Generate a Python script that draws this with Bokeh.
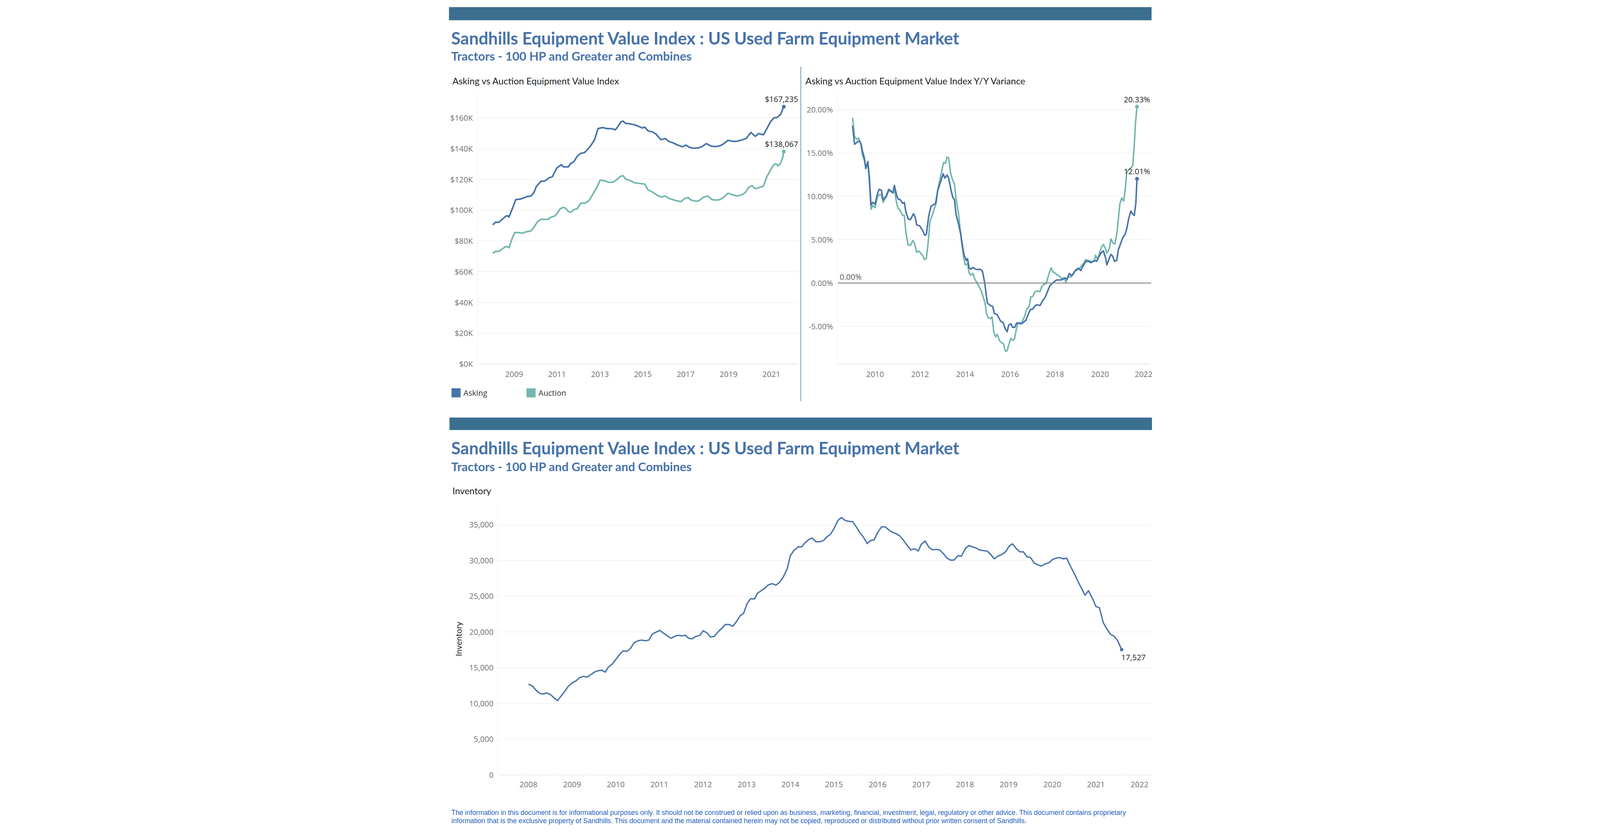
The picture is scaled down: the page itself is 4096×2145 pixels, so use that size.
from bokeh.plotting import figure
from bokeh.layouts import row, column, Spacer
from bokeh.models import Range1d, FixedTicker, Span, Legend, LegendItem
from bokeh.core.properties import value
from bokeh.embed import file_html
from bokeh.resources import INLINE

# ---------------- data ----------------
TITLE = "Sandhills Equipment Value Index : US Used Farm Equipment Market"
SUBTITLE = "Tractors - 100 HP and Greater and Combines"
LEFT_TITLE = "Asking vs Auction Equipment Value Index"
RIGHT_TITLE = "Asking vs Auction Equipment Value Index Y/Y Variance"
INV_TITLE = "Inventory"
FOOTER_1 = ("The information in this document is for informational purposes only.  It should not be construed or relied upon as business, "
            "marketing, financial, investment, legal, regulatory or other advice. This document contains proprietary")
FOOTER_2 = ("information that is the exclusive property of Sandhills. This document and the material contained herein may not be copied, "
            "reproduced or distributed without prior written consent of Sandhills.")

# Asking / Auction value index (thousands of US$)
ask_years = [2008.00, 2008.12, 2008.28, 2008.44, 2008.60, 2008.70, 2008.76, 2008.97, 2009.07, 2009.29,
             2009.50, 2009.61, 2009.71, 2009.82, 2009.93, 2010.03, 2010.25, 2010.41, 2010.57, 2010.62,
             2010.78, 2010.88, 2010.99, 2011.20, 2011.31, 2011.52, 2011.63, 2011.79, 2011.95, 2012.11,
             2012.27, 2012.43, 2012.59, 2012.75, 2012.91, 2013.12, 2013.33, 2013.55, 2013.71, 2013.81,
             2013.97, 2014.08, 2014.19, 2014.40, 2014.61, 2014.82, 2014.98, 2015.09, 2015.25, 2015.46,
             2015.62, 2015.84, 2016.05, 2016.21, 2016.42, 2016.63, 2016.85, 2017.01, 2017.17, 2017.38,
             2017.59, 2017.75, 2017.97, 2018.18, 2018.39, 2018.60, 2018.76, 2018.98, 2019.19, 2019.40,
             2019.62, 2019.83, 2020.04, 2020.25, 2020.41, 2020.63, 2020.79, 2020.95, 2021.11, 2021.27,
             2021.43, 2021.51, 2021.58]
ask_values = [90.4, 92.1, 92.1, 94.0, 96.0, 96.4, 95.5, 103.0, 106.8, 107.2,
              108.2, 108.9, 108.9, 109.6, 111.7, 115.3, 118.8, 118.8, 120.3, 121.0,
              121.7, 124.5, 127.4, 129.5, 128.1, 128.1, 130.2, 131.6, 135.2, 137.0,
              137.3, 139.5, 142.3, 145.8, 153.0, 153.7, 153.0, 153.0, 152.2, 153.7,
              157.2, 157.9, 156.5, 156.1, 155.5, 154.4, 153.4, 154.0, 151.5, 150.8,
              149.4, 145.8, 146.6, 144.7, 143.7, 142.3, 141.2, 142.3, 140.9, 140.2,
              140.5, 141.2, 143.3, 141.6, 141.3, 141.8, 143.0, 145.4, 144.7, 144.8,
              145.6, 146.6, 150.5, 148.0, 149.8, 149.0, 153.0, 157.2, 160.0, 160.3,
              162.2, 165.0, 167.235]

auc_years = [2008.00, 2008.12, 2008.28, 2008.44, 2008.60, 2008.70, 2008.76, 2008.91, 2009.02, 2009.18,
             2009.39, 2009.55, 2009.66, 2009.77, 2009.93, 2010.09, 2010.25, 2010.41, 2010.57, 2010.72,
             2010.88, 2010.99, 2011.15, 2011.31, 2011.42, 2011.52, 2011.63, 2011.79, 2011.95, 2012.11,
             2012.32, 2012.48, 2012.64, 2012.85, 2013.01, 2013.23, 2013.39, 2013.60, 2013.76, 2013.97,
             2014.08, 2014.19, 2014.40, 2014.61, 2014.82, 2014.98, 2015.09, 2015.25, 2015.46, 2015.68,
             2015.89, 2016.05, 2016.21, 2016.42, 2016.58, 2016.79, 2016.95, 2017.11, 2017.22, 2017.38,
             2017.59, 2017.81, 2018.02, 2018.23, 2018.44, 2018.60, 2018.82, 2018.98, 2019.19, 2019.40,
             2019.62, 2019.78, 2019.93, 2020.09, 2020.25, 2020.41, 2020.63, 2020.79, 2020.95, 2021.11,
             2021.21, 2021.32, 2021.43, 2021.53, 2021.58]
auc_values = [71.9, 73.1, 73.1, 74.8, 76.2, 76.2, 75.5, 81.9, 85.4, 85.4,
              85.0, 85.9, 86.1, 86.4, 89.0, 92.5, 94.0, 94.0, 94.0, 95.4,
              96.1, 97.5, 101.0, 101.8, 101.0, 99.2, 98.6, 100.3, 101.0, 104.6,
              104.6, 106.0, 109.6, 114.6, 119.5, 119.1, 118.1, 118.1, 119.5, 122.0,
              122.4, 120.3, 119.3, 117.8, 117.4, 117.1, 117.0, 113.1, 111.7, 109.6,
              108.5, 109.2, 107.7, 106.8, 106.0, 105.6, 107.5, 108.2, 106.8, 106.0,
              105.8, 108.2, 109.2, 106.8, 106.5, 106.8, 108.9, 111.0, 110.0, 109.2,
              109.9, 111.4, 114.6, 116.0, 113.9, 114.6, 115.7, 121.7, 125.9, 129.5,
              130.2, 128.8, 130.5, 134.5, 138.067]

# Y/Y variance (%)
yoy_ask_years = [2009.00, 2009.09, 2009.19, 2009.29, 2009.37, 2009.44, 2009.52, 2009.59, 2009.68, 2009.75,
                 2009.82, 2009.90, 2010.00, 2010.10, 2010.18, 2010.28, 2010.36, 2010.49, 2010.61, 2010.71,
                 2010.79, 2010.86, 2010.96, 2011.02, 2011.12, 2011.22, 2011.30, 2011.37, 2011.47, 2011.57,
                 2011.71, 2011.78, 2011.85, 2011.98, 2012.08, 2012.13, 2012.21, 2012.28, 2012.39, 2012.49,
                 2012.64, 2012.69, 2012.79, 2012.89, 2013.03, 2013.10, 2013.20, 2013.27, 2013.37, 2013.45,
                 2013.53, 2013.60, 2013.71, 2013.81, 2013.88, 2013.96, 2014.06, 2014.11, 2014.18, 2014.26,
                 2014.35, 2014.47, 2014.57, 2014.67, 2014.77, 2014.87, 2014.92, 2014.99, 2015.13, 2015.23,
                 2015.30, 2015.43, 2015.58, 2015.69, 2015.79, 2015.87, 2015.94, 2016.04, 2016.11, 2016.21,
                 2016.29, 2016.40, 2016.50, 2016.60, 2016.70, 2016.80, 2016.90, 2017.01, 2017.11, 2017.21,
                 2017.33, 2017.46, 2017.56, 2017.66, 2017.77, 2017.92, 2018.07, 2018.22, 2018.32, 2018.43,
                 2018.53, 2018.63, 2018.73, 2018.83, 2018.93, 2019.04, 2019.14, 2019.24, 2019.36, 2019.49,
                 2019.59, 2019.75, 2019.85, 2019.93, 2020.05, 2020.15, 2020.25, 2020.30, 2020.41, 2020.48,
                 2020.56, 2020.64, 2020.74, 2020.81, 2020.94, 2021.02, 2021.12, 2021.19, 2021.27, 2021.37,
                 2021.45, 2021.52, 2021.59, 2021.64]
yoy_ask_values = [18.15, 16.0, 16.2, 16.4, 16.1, 15.2, 14.5, 13.2, 14.0, 12.1,
                  9.0, 9.3, 9.1, 10.2, 10.8, 10.7, 9.6, 10.0, 10.8, 10.6,
                  10.4, 11.25, 10.1, 9.7, 9.6, 9.2, 9.3, 8.2, 7.4, 7.3,
                  8.0, 7.6, 6.7, 6.6, 6.2, 6.0, 5.5, 5.6, 7.8, 8.85,
                  9.1, 9.2, 10.7, 11.5, 12.6, 12.1, 12.45, 12.1, 10.8, 9.9,
                  9.6, 7.9, 6.8, 5.6, 4.4, 3.2, 2.6, 2.8, 1.75, 1.6,
                  1.8, 1.6, 1.55, 1.6, 1.4, 0.07, -0.9, -2.3, -2.6, -2.7,
                  -3.5, -3.65, -4.4, -4.55, -5.3, -5.6, -4.85, -4.7, -5.1, -5.1,
                  -4.6, -4.6, -4.7, -4.5, -4.3, -3.65, -3.05, -3.0, -2.6, -2.5,
                  -2.6, -2.0, -1.65, -1.0, -0.3, 0.07, 0.36, 0.36, 0.38, 0.6,
                  0.43, 1.1, 0.85, 1.15, 1.55, 1.7, 1.45, 1.95, 2.5, 2.5,
                  2.35, 2.6, 2.5, 2.95, 3.5, 3.7, 2.85, 2.1, 2.85, 3.3,
                  3.1, 2.5, 2.6, 3.8, 4.75, 5.3, 5.65, 6.3, 7.4, 8.3,
                  7.95, 7.8, 9.2, 12.01]

yoy_auc_years = [2009.00, 2009.09, 2009.17, 2009.27, 2009.37, 2009.44, 2009.54, 2009.59, 2009.68, 2009.75,
                 2009.82, 2009.90, 2010.00, 2010.10, 2010.20, 2010.28, 2010.36, 2010.51, 2010.61, 2010.73,
                 2010.81, 2010.86, 2010.93, 2011.02, 2011.12, 2011.22, 2011.30, 2011.37, 2011.47, 2011.57,
                 2011.68, 2011.75, 2011.85, 2011.93, 2012.03, 2012.13, 2012.20, 2012.28, 2012.36, 2012.44,
                 2012.54, 2012.64, 2012.72, 2012.79, 2012.89, 2012.96, 2013.05, 2013.13, 2013.20, 2013.27,
                 2013.35, 2013.43, 2013.53, 2013.60, 2013.71, 2013.78, 2013.86, 2013.94, 2014.01, 2014.11,
                 2014.18, 2014.26, 2014.35, 2014.42, 2014.52, 2014.62, 2014.72, 2014.79, 2014.89, 2014.95,
                 2015.03, 2015.13, 2015.20, 2015.28, 2015.36, 2015.43, 2015.53, 2015.63, 2015.71, 2015.79,
                 2015.87, 2015.94, 2016.04, 2016.11, 2016.19, 2016.27, 2016.35, 2016.45, 2016.55, 2016.65,
                 2016.75, 2016.85, 2016.92, 2017.01, 2017.11, 2017.21, 2017.33, 2017.41, 2017.51, 2017.61,
                 2017.72, 2017.82, 2017.90, 2018.00, 2018.10, 2018.20, 2018.30, 2018.41, 2018.48, 2018.58,
                 2018.68, 2018.78, 2018.88, 2018.98, 2019.09, 2019.19, 2019.29, 2019.36, 2019.49, 2019.64,
                 2019.75, 2019.80, 2019.90, 2019.97, 2020.07, 2020.15, 2020.23, 2020.30, 2020.41, 2020.48,
                 2020.56, 2020.66, 2020.74, 2020.81, 2020.88, 2020.96, 2021.05, 2021.12, 2021.19, 2021.27,
                 2021.37, 2021.45, 2021.52, 2021.57, 2021.64]
yoy_auc_values = [19.06, 16.9, 16.6, 16.7, 16.0, 14.7, 14.0, 13.2, 13.8, 11.6,
                  8.5, 8.95, 8.7, 9.9, 10.2, 10.2, 9.3, 10.0, 10.65, 10.5,
                  10.4, 10.9, 9.6, 8.6, 8.4, 7.8, 7.8, 5.85, 4.4, 4.35,
                  4.9, 4.6, 3.55, 3.7, 3.45, 3.1, 2.7, 2.85, 4.65, 7.1,
                  7.8, 8.6, 9.25, 10.8, 12.0, 12.9, 13.9, 13.8, 14.5, 14.45,
                  12.8, 12.0, 11.4, 9.7, 8.0, 6.3, 4.4, 2.95, 2.1, 2.25,
                  1.15, 0.9, 1.1, 0.55, 0.07, -0.4, -0.9, -1.5, -2.3, -3.5,
                  -4.0, -4.1, -3.9, -5.7, -6.2, -5.9, -6.65, -6.9, -7.0, -7.85,
                  -7.8, -7.15, -6.35, -6.6, -6.5, -5.45, -4.6, -4.7, -4.4, -3.8,
                  -2.95, -2.7, -1.6, -1.55, -1.0, -0.9, -1.0, -0.4, -0.15, -0.05,
                  1.0, 1.75, 1.3, 1.15, 0.9, 0.8, 0.5, 0.6, 0.07, 0.75,
                  0.67, 0.9, 1.4, 1.5, 1.7, 2.05, 2.35, 2.7, 2.6, 2.45,
                  2.5, 3.2, 2.7, 3.45, 4.2, 4.45, 4.05, 3.45, 3.95, 5.1,
                  4.65, 4.5, 5.6, 7.3, 9.1, 9.8, 9.45, 10.9, 12.8, 13.05,
                  13.3, 13.5, 15.9, 18.3, 20.33]

# Inventory (units)
inv_years = [2008.00, 2008.09, 2008.18, 2008.26, 2008.34, 2008.42, 2008.51, 2008.59, 2008.67, 2008.75,
             2008.84, 2008.92, 2009.01, 2009.09, 2009.17, 2009.26, 2009.34, 2009.43, 2009.51, 2009.58,
             2009.68, 2009.76, 2009.83, 2009.92, 2010.00, 2010.10, 2010.17, 2010.26, 2010.34, 2010.42,
             2010.51, 2010.59, 2010.68, 2010.76, 2010.84, 2010.93, 2011.01, 2011.10, 2011.18, 2011.27,
             2011.35, 2011.43, 2011.52, 2011.60, 2011.67, 2011.75, 2011.83, 2011.93, 2012.00, 2012.09,
             2012.17, 2012.26, 2012.34, 2012.43, 2012.51, 2012.60, 2012.68, 2012.76, 2012.85, 2012.93,
             2013.01, 2013.09, 2013.18, 2013.25, 2013.35, 2013.43, 2013.50, 2013.59, 2013.67, 2013.75,
             2013.84, 2013.93, 2014.00, 2014.08, 2014.18, 2014.26, 2014.33, 2014.43, 2014.50, 2014.59,
             2014.67, 2014.76, 2014.84, 2014.92, 2015.00, 2015.09, 2015.17, 2015.26, 2015.33, 2015.43,
             2015.51, 2015.58, 2015.67, 2015.76, 2015.84, 2015.92, 2016.00, 2016.09, 2016.17, 2016.26,
             2016.34, 2016.43, 2016.51, 2016.59, 2016.67, 2016.76, 2016.85, 2016.93, 2017.00, 2017.09,
             2017.18, 2017.26, 2017.34, 2017.42, 2017.51, 2017.59, 2017.67, 2017.75, 2017.84, 2017.92,
             2018.01, 2018.09, 2018.17, 2018.26, 2018.34, 2018.42, 2018.51, 2018.59, 2018.67, 2018.75,
             2018.85, 2018.93, 2019.01, 2019.09, 2019.18, 2019.26, 2019.34, 2019.42, 2019.50, 2019.59,
             2019.67, 2019.75, 2019.84, 2019.93, 2020.01, 2020.09, 2020.17, 2020.26, 2020.33, 2020.41,
             2020.50, 2020.59, 2020.66, 2020.75, 2020.83, 2020.92, 2021.00, 2021.08, 2021.17, 2021.25,
             2021.34, 2021.42, 2021.50, 2021.59]
inv_values = [12693, 12447, 11816, 11395, 11325, 11466, 11220, 10764, 10414, 11045,
              11746, 12447, 12903, 13149, 13604, 13780, 13675, 14025, 14376, 14551,
              14656, 14376, 15077, 15498, 16129, 16935, 17356, 17286, 17707, 18478,
              18759, 18864, 18759, 18864, 19705, 19986, 20231, 19811, 19460, 19109,
              19390, 19530, 19460, 19530, 19109, 19039, 19355, 19530, 20161, 19881,
              19285, 19390, 19986, 20512, 21038, 21038, 20792, 21388, 22265, 22615,
              23948, 24649, 24614, 25421, 25842, 26192, 26613, 26753, 26543, 26929,
              27700, 28857, 30680, 31381, 31907, 31907, 32433, 32959, 33135, 32609,
              32609, 32784, 33310, 33661, 34467, 35589, 36010, 35589, 35484, 35414,
              34712, 34011, 33310, 32363, 32784, 32889, 33906, 34712, 34712, 34257,
              33941, 33731, 33415, 32854, 32153, 31487, 31627, 31311, 32258, 32714,
              31802, 31487, 31557, 31487, 30926, 30330, 30049, 30049, 30680, 30610,
              31662, 32083, 31907, 31732, 31452, 31381, 31311, 30856, 30224, 30575,
              30856, 31206, 31978, 32328, 31627, 31206, 31206, 30505, 30435, 29628,
              29383, 29208, 29523, 29698, 30154, 30330, 30400, 30224, 30330, 29278,
              28226, 27069, 26227, 25140, 25771, 24719, 23562, 23387, 21283, 20442,
              19635, 19390, 18759, 17527]

# ticks
value_ticks = [0, 20, 40, 60, 80, 100, 120, 140, 160]
value_tick_labels = ["$0K", "$20K", "$40K", "$60K", "$80K", "$100K", "$120K", "$140K", "$160K"]
value_year_ticks = [2009, 2011, 2013, 2015, 2017, 2019, 2021]
yoy_ticks = [-5, 0, 5, 10, 15, 20]
yoy_tick_labels = ["-5.00%", "0.00%", "5.00%", "10.00%", "15.00%", "20.00%"]
yoy_year_ticks = [2010, 2012, 2014, 2016, 2018, 2020, 2022]
inv_ticks = [0, 5000, 10000, 15000, 20000, 25000, 30000, 35000]
inv_tick_labels = ["0", "5,000", "10,000", "15,000", "20,000", "25,000", "30,000", "35,000"]
inv_year_ticks = [2008, 2009, 2010, 2011, 2012, 2013, 2014, 2015, 2016, 2017, 2018, 2019, 2020, 2021, 2022]
all_years = list(range(2008, 2023))
legend_labels = ["Asking", "Auction"]

# ---------------- styles ----------------
BAR = "#3b6f8f"
TITLE_C = "#4672aa"
ASK = "#4673a9"
AUC = "#72b6ae"
INV = "#4a76aa"
DIVIDER = "#5a85b0"
TICK_C = "#707070"
GRID_C = "#e9e9e9"
FOOT_C = "#1f5fbf"
TICK_FONT = "Open Sans"
HEAD_FONT = "Lato"
NAN = float("nan")


def canvas(w, h):
    p = figure(width=w, height=h, x_range=Range1d(0, w), y_range=Range1d(h, 0),
               output_backend="svg", toolbar_location=None,
               x_axis_location=None, y_axis_location=None, min_border=0)
    p.grid.visible = False
    p.outline_line_color = None
    return p


def txt(p, x, y, s, size, color, font=HEAD_FONT, style="normal", align="left"):
    p.text(x=[x], y=[y], text=[s], text_font=value(font), text_font_size=f"{size}px",
           text_font_style=style, text_color=color, text_align=align, text_baseline="middle")


def chart(w, h, xr, yr, bl, br, bb, xstand):
    p = figure(width=w, height=h, x_range=Range1d(*xr), y_range=Range1d(*yr),
               output_backend="svg", toolbar_location=None,
               min_border_left=bl, min_border_right=br, min_border_top=0, min_border_bottom=bb)
    p.outline_line_color = None
    p.xgrid.grid_line_color = None
    p.ygrid.grid_line_color = GRID_C
    p.ygrid.grid_line_width = 1.2
    for ax in (p.xaxis, p.yaxis):
        ax.major_label_text_font = TICK_FONT
        ax.major_label_text_font_size = "20px"
        ax.major_label_text_color = TICK_C
    p.xaxis.axis_line_color = "#dcdcdc"
    p.xaxis.major_tick_line_color = "#dcdcdc"
    p.xaxis.minor_tick_line_color = "#dcdcdc"
    p.xaxis.major_tick_in = 0
    p.xaxis.major_tick_out = 5
    p.xaxis.minor_tick_in = 0
    p.xaxis.minor_tick_out = 4
    p.xaxis.major_label_standoff = xstand
    p.yaxis.axis_line_color = "#eeeeee"
    p.yaxis.major_tick_line_color = None
    p.yaxis.minor_tick_line_color = None
    p.yaxis.major_tick_in = 0
    p.yaxis.major_tick_out = 0
    p.yaxis.minor_tick_in = 0
    p.yaxis.minor_tick_out = 0
    p.yaxis.major_label_standoff = 12
    return p


def set_ticks(p, xt, xminor, yt, ylabels):
    p.xaxis.ticker = FixedTicker(ticks=xt, minor_ticks=xminor)
    p.xaxis.major_label_overrides = {t: str(t) for t in xt}
    yticker = FixedTicker(ticks=yt)
    p.yaxis.ticker = yticker
    p.ygrid.ticker = yticker
    p.yaxis.major_label_overrides = {t: l for t, l in zip(yt, ylabels)}


W = 1802

# ---------------- header 1 ----------------
h1 = canvas(W, 162)
h1.quad(left=[0], right=[1798], top=[10.3], bottom=[42.8], color=BAR)
txt(h1, 5.5, 88.5, TITLE, 43.5, TITLE_C, style="bold")
txt(h1, 5.5, 134.9, SUBTITLE, 31, TITLE_C, style="bold")

# ---------------- left chart ----------------
lt = canvas(900, 67)
txt(lt, 8.7, 36.0, LEFT_TITLE, 23.6, "#222222")

lx = (2007.29, 2022.29)
lc = chart(900, 744, lx, (0, 176.3), 72, 4, 50, 14)
set_ticks(lc, value_year_ticks, all_years, value_ticks, value_tick_labels)
lc.line(ask_years, ask_values, line_color=ASK, line_width=4, line_join="round")
lc.line(auc_years, auc_values, line_color=AUC, line_width=4, line_join="round")
lc.scatter([ask_years[-1]], [ask_values[-1]], size=9, color=ASK)
lc.scatter([auc_years[-1]], [auc_values[-1]], size=9, color=AUC)
lc.text(x=[ask_years[-1], auc_years[-1]], y=[ask_values[-1], auc_values[-1]],
        text=[f"${round(ask_values[-1] * 1000):,}", f"${round(auc_values[-1] * 1000):,}"],
        text_font=value(TICK_FONT), text_font_size="20px", text_color="#222222",
        text_align="center", text_baseline="middle", x_offset=-6, y_offset=-20)

lg = canvas(900, 75)
r_ask = lg.quad(left=[NAN], right=[NAN], top=[NAN], bottom=[NAN], fill_color=ASK, line_color=ASK)
r_auc = lg.quad(left=[NAN], right=[NAN], top=[NAN], bottom=[NAN], fill_color=AUC, line_color=AUC)
legend = Legend(items=[LegendItem(label=legend_labels[0], renderers=[r_ask]),
                       LegendItem(label=legend_labels[1], renderers=[r_auc])],
                location=(3.5, 36.8), orientation="horizontal",
                glyph_width=28, glyph_height=28, label_height=28, label_standoff=6,
                label_width=158, spacing=0, padding=0, margin=0,
                border_line_color=None, background_fill_alpha=0,
                label_text_font=TICK_FONT, label_text_font_size="20px", label_text_color="#333333")
lg.add_layout(legend)

left_sec = column(lt, row(lc), lg)

# divider
dv = canvas(2, 857)
dv.quad(left=[0], right=[2], top=[0], bottom=[857], color=DIVIDER)
div_sec = column(dv, Spacer(width=2, height=29))

# ---------------- right chart ----------------
rt = canvas(899, 67)
txt(rt, 10.2, 36.4, RIGHT_TITLE, 23.6, "#222222")

rx = (2008.34, 2022.28)
rc = chart(899, 744, rx, (-9.32, 21.93), 93, 3, 50, 14)
set_ticks(rc, yoy_year_ticks, all_years, yoy_ticks, yoy_tick_labels)
rc.add_layout(Span(location=0, dimension="width", line_color="#8a8a8a", line_width=2.5))
rc.text(x=[rx[0]], y=[0], text=[f"{0:.2f}%"], text_font=value(TICK_FONT), text_font_size="20px",
        text_color="#555555", text_align="left", text_baseline="middle", x_offset=5, y_offset=-16)
rc.line(yoy_auc_years, yoy_auc_values, line_color=AUC, line_width=3.8, line_join="round")
rc.line(yoy_ask_years, yoy_ask_values, line_color=ASK, line_width=3.8, line_join="round")
rc.scatter([yoy_auc_years[-1]], [yoy_auc_values[-1]], size=9, color=AUC)
rc.scatter([yoy_ask_years[-1]], [yoy_ask_values[-1]], size=9, color=ASK)
rc.text(x=[yoy_auc_years[-1], yoy_ask_years[-1]], y=[yoy_auc_values[-1], yoy_ask_values[-1]],
        text=[f"{yoy_auc_values[-1]:.2f}%", f"{yoy_ask_values[-1]:.2f}%"],
        text_font=value(TICK_FONT), text_font_size="20px", text_color="#222222",
        text_align="center", text_baseline="middle", y_offset=-19)

right_sec = column(rt, row(rc), Spacer(width=899, height=75))

charts = row(left_sec, div_sec, right_sec)

# ---------------- header 2 ----------------
h2 = canvas(W, 231)
h2.quad(left=[1.6], right=[1799], top=[12.7], bottom=[43.7], color=BAR)
txt(h2, 5.5, 89.7, TITLE, 43.5, TITLE_C, style="bold")
txt(h2, 5.5, 137.0, SUBTITLE, 31, TITLE_C, style="bold")
txt(h2, 8.7, 199.3, INV_TITLE, 23.6, "#222222")

# ---------------- inventory chart ----------------
bx = (2007.30, 2022.28)
bc = chart(W, 748, bx, (0, 38040), 125, 3, 52, 12)
quarters = [y + q / 4 for y in range(2007, 2023) for q in range(4)]
set_ticks(bc, inv_year_ticks, quarters, inv_ticks, inv_tick_labels)
bc.yaxis.major_label_standoff = 11
bc.yaxis.axis_label = INV_TITLE
bc.yaxis.axis_label_text_font = HEAD_FONT
bc.yaxis.axis_label_text_font_size = "21px"
bc.yaxis.axis_label_text_font_style = "normal"
bc.yaxis.axis_label_text_color = "#222222"
bc.yaxis.axis_label_standoff = 12
bc.line(inv_years, inv_values, line_color=INV, line_width=3.5, line_join="round")
bc.scatter([inv_years[-1]], [inv_values[-1]], size=8, color=INV)
bc.text(x=[inv_years[-1]], y=[inv_values[-1]], text=[f"{inv_values[-1]:,}"],
        text_font=value(TICK_FONT), text_font_size="20px", text_color="#222222",
        text_align="left", text_baseline="middle", x_offset=-1, y_offset=20)

# ---------------- footer ----------------
ft = canvas(W, 90)
txt(ft, 6, 44.7, FOOTER_1, 17.5, FOOT_C, font="Liberation Sans")
txt(ft, 6, 65.6, FOOTER_2, 17.5, FOOT_C, font="Liberation Sans")

content = column(Spacer(width=W, height=8), h1, charts, h2, row(bc), ft)
page = row(Spacer(width=1149, height=10), content)

open("out.html", "w").write(file_html(page, INLINE))
